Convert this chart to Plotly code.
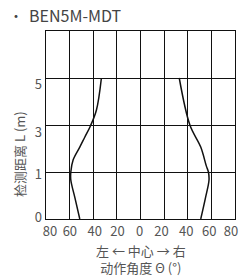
import numpy as np
import plotly.graph_objects as go

# Axis definitions
x_ticks = [-80, -60, -40, -20, 0, 20, 40, 60, 80]
x_ticktext = ["80", "60", "40", "20", "0", "20", "40", "60", "80"]
y_tick_m = [0, 1, 3, 5, 7]          # distance (m) at evenly spaced grid rows
y_tick_pos = [0, 1, 2, 3, 4]
y_ticktext = ["0", "1", "3", "5", ""]

# Detection area boundaries (angle in deg, distance in m)
left_angle = [-51.4, -55.5, -59.0, -59.0, -57.0, -51.4, -47.2, -42.4, -37.3, -33.1]
left_dist = [0.0, 0.45, 0.83, 1.0, 1.52, 2.06, 2.48, 2.96, 3.64, 5.0]
right_angle = [51.0, 55.0, 58.0, 57.5, 55.7, 51.0, 41.8, 32.8]
right_dist = [0.0, 0.45, 0.83, 1.0, 1.26, 2.06, 3.0, 5.0]


def to_pos(d):
    return np.interp(d, y_tick_m, y_tick_pos)


# label placement (layout only): labels sit slightly off their grid lines
x_label_nudge = [3.4, 0.2, 1.3, 0.6, -0.8, -2.3, -1.3, -1.9, -3.4]
y_label_nudge = [0.04, -0.06, -0.15, -0.13, 0]
x_label_pos = [v + n for v, n in zip(x_ticks, x_label_nudge)]
y_label_pos = [v + n for v, n in zip(y_tick_pos, y_label_nudge)]

fig = go.Figure()
for xs, ds in [(left_angle, left_dist), (right_angle, right_dist)]:
    fig.add_trace(go.Scatter(x=xs, y=to_pos(ds), mode="lines",
                             line=dict(color="#111", width=1.5, shape="spline"),
                             showlegend=False, hoverinfo="skip"))
# empty trace that anchors the label axes
fig.add_trace(go.Scatter(x=[None], y=[None], xaxis="x2", yaxis="y2",
                         showlegend=False, hoverinfo="skip"))

font_family = "Noto Sans CJK SC, Noto Sans, sans-serif"
gray = "#555"

fig.update_layout(
    width=240, height=269,
    margin=dict(l=38, r=13, t=23, b=58),
    paper_bgcolor="white", plot_bgcolor="white",
    font=dict(family=font_family, size=13, color=gray),
    xaxis=dict(range=[-80, 80], tickvals=x_ticks, showticklabels=False,
               showgrid=True, gridcolor="#111", gridwidth=1,
               zeroline=True, zerolinecolor="#111", zerolinewidth=1,
               showline=True, linecolor="#111", linewidth=1, mirror=True,
               ticks="", fixedrange=True, automargin=False),
    yaxis=dict(range=[0, 4], tickvals=y_tick_pos, showticklabels=False,
               showgrid=True, gridcolor="#111", gridwidth=1,
               zeroline=False,
               showline=True, linecolor="#111", linewidth=1, mirror=True,
               ticks="", fixedrange=True, automargin=False),
    xaxis2=dict(range=[-80, 80], overlaying="x", side="bottom", anchor="y2",
                tickvals=x_label_pos, ticktext=x_ticktext,
                showgrid=False, zeroline=False, showline=False, ticks="",
                ticklabelstandoff=3,
                tickfont=dict(size=13, color=gray), fixedrange=True,
                automargin=False),
    yaxis2=dict(range=[0, 4], overlaying="y", side="left", anchor="x2",
                tickvals=y_label_pos, ticktext=y_ticktext,
                showgrid=False, zeroline=False, showline=False, ticks="",
                ticklabelstandoff=3,
                tickfont=dict(size=13, color=gray), fixedrange=True,
                automargin=False),
    annotations=[
        dict(text="•", xref="paper", yref="paper", x=-0.159, y=1.0,
             xanchor="center", yanchor="middle", yshift=16, showarrow=False,
             font=dict(size=14, color="#444", family=font_family)),
        dict(text="BEN5M-MDT", xref="paper", yref="paper", x=-0.1005, y=1.0,
             xanchor="left", yanchor="middle", yshift=16, showarrow=False,
             font=dict(size=16, color="#444", family=font_family)),
        dict(text="检测距离 L (m)", xref="paper", yref="paper", x=-0.1376, y=0.346,
             xanchor="center", yanchor="middle", textangle=-90, showarrow=False,
             font=dict(size=13, color=gray, family=font_family)),
        dict(text="左 ← 中心 → 右<br>动作角度 Θ (°)", xref="paper", yref="paper",
             x=0.5, y=0, xanchor="center", yanchor="middle", yshift=-40,
             showarrow=False, align="center",
             font=dict(size=13, color=gray, family=font_family)),
    ],
)

fig.write_html("out.html")
